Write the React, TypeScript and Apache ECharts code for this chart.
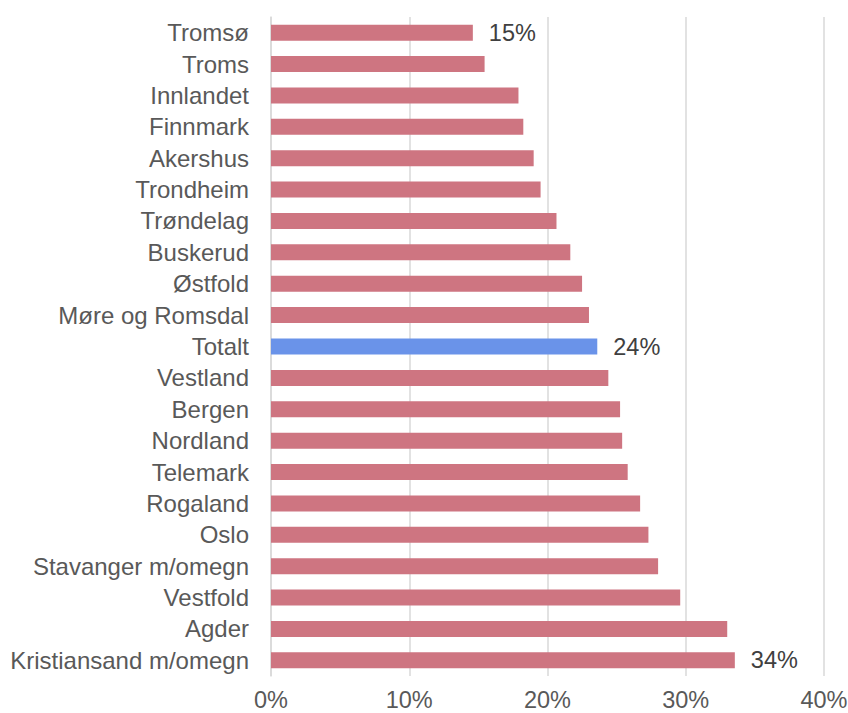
import React, { useEffect, useRef } from "react";
import * as echarts from "echarts";

const categories = [
  "Tromsø", "Troms", "Innlandet", "Finnmark", "Akershus", "Trondheim", "Trøndelag",
  "Buskerud", "Østfold", "Møre og Romsdal", "Totalt", "Vestland", "Bergen", "Nordland",
  "Telemark", "Rogaland", "Oslo", "Stavanger m/omegn", "Vestfold", "Agder", "Kristiansand m/omegn",
];
const values = [
  14.6, 15.45, 17.9, 18.25, 19.0, 19.5, 20.65, 21.65, 22.5, 23.0, 23.6, 24.4, 25.25, 25.4,
  25.8, 26.7, 27.3, 28.0, 29.6, 33.0, 33.55,
];
const labelled = ["Tromsø", "Totalt", "Kristiansand m/omegn"];
const highlight = "Totalt";
const xTicks = [0, 10, 20, 30, 40];

export default function App() {
  const ref = useRef<HTMLDivElement>(null);
  useEffect(() => {
    const chart = echarts.init(ref.current!, null, { renderer: "svg" });
    const font = "Liberation Sans, Arial, sans-serif";
    chart.setOption({
      animation: false,
      grid: {
        left: 271,
        right: 24,
        top: 17,
        bottom: 37,
        containLabel: false,
        outerBoundsMode: "none",
      },
      xAxis: {
        type: "value",
        min: xTicks[0],
        max: xTicks[xTicks.length - 1],
        interval: 10,
        axisLabel: {
          formatter: (v: number) => v + "%",
          color: "#595959",
          fontSize: 23.5,
          fontFamily: font,
          margin: 12,
        },
        splitLine: { lineStyle: { color: "#d9d9d9", width: 1.5 } },
        axisLine: { show: false },
        axisTick: { show: false },
      },
      yAxis: {
        type: "category",
        data: categories,
        inverse: true,
        axisLabel: { color: "#595959", fontSize: 24, fontFamily: font, margin: 22, interval: 0 },
        axisLine: { show: true, lineStyle: { color: "#d9d9d9", width: 1.5 } },
        axisTick: { show: false },
      },
      series: [
        {
          type: "bar",
          barWidth: 16,
          data: values.map((v, i) => ({
            value: v,
            itemStyle: { color: categories[i] === highlight ? "#6a93e9" : "#ce7581" },
            label: {
              show: labelled.includes(categories[i]),
              position: "right",
              distance: 16,
              formatter: (p: any) => Math.round(p.value) + "%",
              color: "#404040",
              fontSize: 23.5,
              fontFamily: font,
            },
          })),
        },
      ],
    });
    return () => chart.dispose();
  }, []);
  return (
    <div
      ref={ref}
      style={{ position: "absolute", left: 0, top: 0, width: 848, height: 713, background: "#fff" }}
    />
  );
}
